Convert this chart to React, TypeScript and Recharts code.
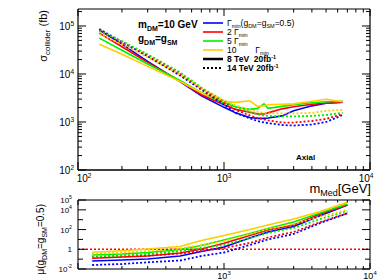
import React from 'react';
import { LineChart, Line, XAxis, YAxis, Legend, ReferenceLine } from 'recharts';

const FONT = '"Liberation Sans", Arial, Helvetica, sans-serif';

// ---------- top panel: cross sections (fb) vs mediator mass (GeV) ----------
const massTop = [140, 200, 300, 500, 700, 1000, 1200, 1500, 1700, 1880, 2000, 2500, 3000, 4000, 5000, 6500];
const sigBlue8 = [82400, 41800, 18300, 6950, 3530, 2020, 1550, 1240, 1190, 1190, 1210, 1340, 1710, 2170, 2450, 2570];
const sigRed8 = [71200, 37000, 17500, 7120, 3700, 2280, 1830, 1590, 1470, 1470, 1550, 1880, 2070, 2340, 2450, 2570];
const sigGreen8 = [55900, 31200, 16200, 7300, 4080, 2510, 2070, 1830, 1920, 2390, 1920, 2120, 2280, 2510, 2640, 2700];
const sigYellow8 = [41800, 25700, 14400, 6950, 4080, 2700, 2570, 2770, 2120, 2170, 2280, 2340, 2390, 2700, 2980, 2640];
const sigBlue14 = [86400, 46100, 23400, 9300, 4720, 2280, 1550, 1190, 1050, 975, 952, 865, 843, 885, 1000, 1400];
const sigRed14 = [82400, 46100, 24500, 10300, 4950, 2510, 1790, 1370, 1210, 1130, 1080, 975, 975, 1050, 1160, 1470];
const sigGreen14 = [78500, 48300, 25700, 10800, 5200, 2770, 2070, 1620, 1440, 1370, 1340, 1310, 1310, 1340, 1400, 1550];
const sigYellow14 = [67900, 41800, 22300, 9760, 4950, 2770, 2220, 1790, 1620, 1550, 1510, 1510, 1510, 1550, 1710, 1790];

// ---------- bottom panel: signal strength mu ----------
const massRatio = [125, 200, 300, 500, 700, 1000, 1500, 2000, 3000, 4500, 7000];
const muBlue8 = [0.0647, 0.0818, 0.103, 0.208, 0.596, 1.7, 13.9, 56.6, 204, 2370, 31000];
const muRed8 = [0.122, 0.165, 0.208, 0.42, 1.07, 4.04, 25, 90, 290, 3530, 31000];
const muGreen8 = [0.263, 0.332, 0.471, 0.95, 2.42, 8.73, 39.8, 128, 584, 4460, 39100];
const muYellow8 = [0.494, 0.7, 1.07, 1.91, 7.77, 25, 104, 290, 1180, 6470, 58200];
const muBlue14 = [0.0255, 0.0321, 0.0479, 0.0728, 0.208, 0.471, 2.72, 9.8, 35.5, 431, 4460];
const muRed14 = [0.165, 0.185, 0.234, 0.373, 0.67, 1.35, 4.33, 15.7, 56.6, 545, 4460];
const muGreen14 = [0.177, 0.234, 0.332, 0.67, 1.35, 2.72, 13.9, 44.8, 144, 1100, 7620];
const muYellow14 = [0.373, 0.471, 0.67, 1.2, 2.72, 6.9, 35.5, 114, 366, 2015, 9630];
const muReference = 1;

// ---------- axes / legend text ----------
const xMajor = [100, 1000, 10000];
const xLabelExpTop = ['2', '3', '4'];
const xLabelExpBottom = ['', '3', '4'];
const yMajorTop = [100, 1000, 10000, 100000];
const yLabelExpTop = ['2', '3', '4', '5'];
const yDecadesBottom = [0.01, 0.1, 1, 10, 100, 1000, 10000, 100000];
const yLabelsBottom: Record<string, string> = { '100000': '5', '10000': '4', '100': '2', '1': '', '0.01': '-2' };
const legendWidths = ['Γ', '2 Γ', '5 Γ', '10        Γ'];
const legendEnergies = ['8 TeV  20fb', '14 TeV 20fb'];

const C = { blue: '#0000ff', red: '#ff0000', green: '#00ee00', yellow: '#ffcc00' };

function minorTicks(majors: number[], max: number) {
  const out: number[] = [];
  majors.forEach((d) => {
    for (let k = 1; k <= 9; k++) if (k * d <= max * 1.0001) out.push(k * d);
  });
  return out;
}
const xTicks = minorTicks([100, 1000], 10000).concat([10000]);
const yTicksTop = minorTicks([100, 1000, 10000, 100000], 226000);

const topData = massTop.map((m, i) => ({
  m,
  b8: sigBlue8[i], r8: sigRed8[i], g8: sigGreen8[i], y8: sigYellow8[i],
  b14: sigBlue14[i], r14: sigRed14[i], g14: sigGreen14[i], y14: sigYellow14[i],
}));
const ratioData = massRatio.map((m, i) => ({
  m,
  b8: muBlue8[i], r8: muRed8[i], g8: muGreen8[i], y8: muYellow8[i],
  b14: muBlue14[i], r14: muRed14[i], g14: muGreen14[i], y14: muYellow14[i],
}));

const isDecade = (v: number) => {
  const l = Math.log10(v);
  return Math.abs(l - Math.round(l)) < 1e-6;
};

const Pow = ({ x, y, exp, anchor = 'middle', fs = 10 }: any) =>
  exp === '' ? (
    <text x={x} y={y} textAnchor={anchor} fontSize={fs} fontFamily={FONT} fill="#000">1</text>
  ) : (
    <text x={x} y={y} textAnchor={anchor} fontSize={fs} fontFamily={FONT} fill="#000">
      10<tspan dy={-4} fontSize={fs * 0.65}>{exp}</tspan>
    </text>
  );

const XTickBottomTop = (p: any) => {
  const v = p.payload.value;
  const maj = isDecade(v);
  const idx = xMajor.indexOf(v);
  return (
    <g>
      <line x1={p.x} x2={p.x} y1={p.y} y2={p.y - (maj ? 8 : 4)} stroke="#000" />
      {maj && idx >= 0 ? <Pow x={p.x + (idx === 0 ? 6 : idx === 2 ? -4 : 0)} y={p.y + 12} exp={xLabelExpTop[idx]} /> : null}
    </g>
  );
};
const XTickBottomRatio = (p: any) => {
  const v = p.payload.value;
  const maj = isDecade(v);
  const idx = xMajor.indexOf(v);
  return (
    <g>
      <line x1={p.x} x2={p.x} y1={p.y} y2={p.y - (maj ? 6 : 3)} stroke="#000" />
      {maj && idx >= 0 && xLabelExpBottom[idx] !== '' ? <Pow x={p.x} y={p.y + 10} exp={xLabelExpBottom[idx]} fs={9} /> : null}
    </g>
  );
};
const XTickTop = (len: number) => (p: any) => {
  const maj = isDecade(p.payload.value);
  return <line x1={p.x} x2={p.x} y1={p.y} y2={p.y + (maj ? len : len / 2)} stroke="#000" />;
};
const YTickLeftTop = (p: any) => {
  const v = p.payload.value;
  const maj = isDecade(v);
  const idx = yMajorTop.indexOf(v);
  return (
    <g>
      <line x1={p.x} x2={p.x + (maj ? 8 : 4)} y1={p.y} y2={p.y} stroke="#000" />
      {maj && idx >= 0 ? <Pow x={p.x - 4} y={p.y + 4} exp={yLabelExpTop[idx]} anchor="end" /> : null}
    </g>
  );
};
const YTickRight = (len: number) => (p: any) => {
  const maj = isDecade(p.payload.value);
  return <line x1={p.x} x2={p.x - (maj ? len : len / 2)} y1={p.y} y2={p.y} stroke="#000" />;
};
const YTickLeftRatio = (p: any) => {
  const v = p.payload.value;
  const lab = yLabelsBottom[String(v)];
  return (
    <g>
      <line x1={p.x} x2={p.x + (lab !== undefined ? 8 : 5)} y1={p.y} y2={p.y} stroke="#000" />
      {lab !== undefined ? <Pow x={p.x - 6} y={p.y + 3} exp={lab} anchor="end" fs={8} /> : null}
    </g>
  );
};
const YTickRightRatio = (p: any) => {
  const lab = yLabelsBottom[String(p.payload.value)];
  return <line x1={p.x} x2={p.x - (lab !== undefined ? 8 : 5)} y1={p.y} y2={p.y} stroke="#000" />;
};

const LegendBox = () => {
  const rows = [C.blue, C.red, C.green, C.yellow];
  const rowY = [6, 15, 24, 33, 42, 51];
  return (
    <svg width={110} height={60} style={{ display: 'block', overflow: 'visible' }}>
      {rows.map((col, i) => (
        <g key={i}>
          <line x1={5} x2={25} y1={rowY[i]} y2={rowY[i]} stroke={col} strokeWidth={1.6} />
          <text x={29} y={rowY[i] + 3} fontSize={8.5} fontFamily={FONT} fill="#000" xmlSpace="preserve" style={{ whiteSpace: 'pre' }}>
            {legendWidths[i]}
            <tspan dy={1.5} fontSize={5.5}>min</tspan>
            {i === 0 ? (
              <>
                <tspan dy={-1.5} fontSize={8.5}>(g</tspan>
                <tspan dy={1.5} fontSize={5.5}>DM</tspan>
                <tspan dy={-1.5} fontSize={8.5}>=g</tspan>
                <tspan dy={1.5} fontSize={5.5}>SM</tspan>
                <tspan dy={-1.5} fontSize={8.5}>=0.5)</tspan>
              </>
            ) : null}
          </text>
        </g>
      ))}
      {legendEnergies.map((t, j) => (
        <g key={'e' + j}>
          <line x1={5} x2={25} y1={rowY[4 + j]} y2={rowY[4 + j]} stroke="#000" strokeWidth={j === 0 ? 2.5 : 2} strokeDasharray={j === 0 ? undefined : '2 2'} />
          <text x={29} y={rowY[4 + j] + 3} fontSize={8.5} fontWeight="bold" fontFamily={FONT} fill="#000" xmlSpace="preserve" style={{ whiteSpace: 'pre' }}>
            {t}
            <tspan dy={-3} fontSize={5.5}>-1</tspan>
          </text>
        </g>
      ))}
    </svg>
  );
};

const seriesDefs = [
  { k: 'b8', c: C.blue, d: false },
  { k: 'r8', c: C.red, d: false },
  { k: 'g8', c: C.green, d: false },
  { k: 'y8', c: C.yellow, d: false },
  { k: 'b14', c: C.blue, d: true },
  { k: 'r14', c: C.red, d: true },
  { k: 'g14', c: C.green, d: true },
  { k: 'y14', c: C.yellow, d: true },
];

const renderLines = () =>
  seriesDefs.map((s) => (
    <Line
      key={s.k}
      dataKey={s.k}
      type="linear"
      stroke={s.c}
      strokeWidth={s.d ? 1.8 : 1.6}
      strokeDasharray={s.d ? '2 2' : undefined}
      dot={false}
      activeDot={false}
      isAnimationActive={false}
    />
  ));

export default function App() {
  return (
    <div style={{ position: 'absolute', left: 0, top: 0, width: 390, height: 280, background: '#fff', overflow: 'hidden' }}>
      <div style={{ position: 'absolute', left: 0, top: 0 }}>
        <LineChart width={390} height={200} data={topData} margin={{ top: 8, right: 19, bottom: 0, left: 0 }}>
          <XAxis dataKey="m" type="number" scale="log" domain={[100, 10000]} ticks={xTicks} interval={0}
            tickSize={0} tickMargin={0} height={30} allowDataOverflow
            axisLine={{ stroke: '#000', strokeWidth: 1.5 }} tickLine={false} tick={XTickBottomTop} />
          <XAxis xAxisId="t" orientation="top" dataKey="m" type="number" scale="log" domain={[100, 10000]} ticks={xTicks}
            interval={0} tickSize={0} tickMargin={0} height={1} allowDataOverflow
            axisLine={{ stroke: '#000', strokeWidth: 1.2 }} tickLine={false} tick={XTickTop(7)} />
          <YAxis type="number" scale="log" domain={[100, 226000]} ticks={yTicksTop} interval={0}
            tickSize={0} tickMargin={0} width={78} allowDataOverflow
            axisLine={{ stroke: '#666', strokeWidth: 2 }} tickLine={false} tick={YTickLeftTop} />
          <YAxis yAxisId="r" orientation="right" type="number" scale="log" domain={[100, 226000]} ticks={yTicksTop}
            interval={0} tickSize={0} tickMargin={0} width={1} allowDataOverflow
            axisLine={{ stroke: '#666', strokeWidth: 2 }} tickLine={false} tick={YTickRight(8)} />
          <Legend layout="vertical" align="center" verticalAlign="middle" content={() => <LegendBox />}
            wrapperStyle={{ left: 198, top: 17, width: 110, height: 60 }} />
          {renderLines()}
        </LineChart>
      </div>
      <div style={{ position: 'absolute', left: 0, top: 195 }}>
        <LineChart width={390} height={85} data={ratioData} margin={{ top: 4, right: 19, bottom: 0, left: 0 }}>
          <XAxis dataKey="m" type="number" scale="log" domain={[100, 10000]} ticks={xTicks} interval={0}
            tickSize={0} tickMargin={0} height={11} allowDataOverflow
            axisLine={{ stroke: '#777', strokeWidth: 2 }} tickLine={false} tick={XTickBottomRatio} />
          <XAxis xAxisId="t" orientation="top" dataKey="m" type="number" scale="log" domain={[100, 10000]} ticks={xTicks}
            interval={0} tickSize={0} tickMargin={0} height={1} allowDataOverflow
            axisLine={{ stroke: '#777', strokeWidth: 2 }} tickLine={false} tick={XTickTop(5)} />
          <YAxis type="number" scale="log" domain={[0.01, 100000]} ticks={yDecadesBottom} interval={0}
            tickSize={0} tickMargin={0} width={78} allowDataOverflow
            axisLine={{ stroke: '#777', strokeWidth: 2 }} tickLine={false} tick={YTickLeftRatio} />
          <YAxis yAxisId="r" orientation="right" type="number" scale="log" domain={[0.01, 100000]} ticks={yDecadesBottom}
            interval={0} tickSize={0} tickMargin={0} width={1} allowDataOverflow
            axisLine={{ stroke: '#777', strokeWidth: 2 }} tickLine={false} tick={YTickRightRatio} />
          <ReferenceLine y={muReference} stroke={C.red} strokeWidth={1.5} strokeDasharray="2 2" />
          {renderLines()}
        </LineChart>
      </div>
      <svg width={390} height={280} style={{ position: 'absolute', left: 0, top: 0, pointerEvents: 'none' }} fontFamily={FONT}>
        <text transform="translate(47,10) rotate(-90)" textAnchor="end" fontSize={11} fill="#000">
          σ<tspan dy={3} fontSize={8}>collider</tspan><tspan dy={-3} fontSize={11}> (fb)</tspan>
        </text>
        <text transform="translate(44,204) rotate(-90)" textAnchor="end" fontSize={10} fill="#000">
          μ(g<tspan dy={3} fontSize={7}>DM</tspan><tspan dy={-3}>=g</tspan><tspan dy={3} fontSize={7}>SM</tspan><tspan dy={-3}>=0.5)</tspan>
        </text>
        <text x={138} y={28} fontSize={10} fontWeight="bold" fill="#000">
          m<tspan dy={3} fontSize={7}>DM</tspan><tspan dy={-3}>=10 GeV</tspan>
        </text>
        <text x={138} y={42} fontSize={10} fontWeight="bold" fill="#000">
          g<tspan dy={3} fontSize={7}>DM</tspan><tspan dy={-3}>=g</tspan><tspan dy={3} fontSize={7}>SM</tspan>
        </text>
        <text x={296} y={160} fontSize={8} fontWeight="bold" fill="#000">Axial</text>
        <text x={371} y={193} textAnchor="end" fontSize={13} fill="#000">
          m<tspan dy={3} fontSize={9}>Med</tspan><tspan dy={-3}>[GeV]</tspan>
        </text>
      </svg>
    </div>
  );
}
